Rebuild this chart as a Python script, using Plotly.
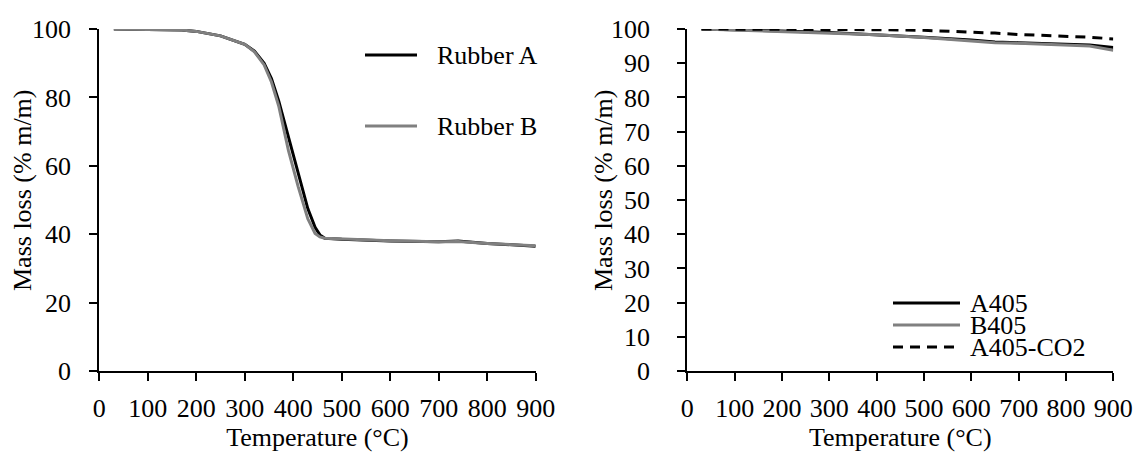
import plotly.graph_objects as go

# Thermogravimetric curves of the raw rubbers
temp_rubber = [30, 100, 170, 200, 250, 300, 320, 340, 355, 370, 390, 410, 430,
               445, 455, 465, 500, 600, 700, 740, 800, 900]
rubber_a = [100, 99.9, 99.7, 99.3, 98.0, 95.5, 93.5, 90.0, 85.5, 79.0, 68.5, 58.0,
            47.5, 42.0, 39.8, 38.8, 38.5, 38.0, 37.8, 38.0, 37.3, 36.5]
rubber_b = [100, 99.9, 99.7, 99.3, 98.0, 95.5, 93.3, 89.5, 84.5, 77.5, 64.5, 54.0,
            44.5, 40.2, 39.2, 38.8, 38.6, 38.1, 37.8, 37.9, 37.3, 36.6]

# Thermogravimetric curves of the chars
temp_char = [30, 100, 200, 300, 400, 500, 600, 650, 700, 800, 850, 900]
a405 = [100, 99.8, 99.4, 99.0, 98.4, 97.6, 96.8, 96.2, 96.0, 95.6, 95.3, 94.6]
b405 = [100, 99.7, 99.3, 98.9, 98.3, 97.5, 96.6, 96.0, 95.8, 95.4, 95.0, 93.8]
a405_co2 = [100, 100, 100, 99.9, 99.8, 99.6, 99.2, 98.8, 98.4, 97.9, 97.6, 97.1]

x_ticks = [0, 100, 200, 300, 400, 500, 600, 700, 800, 900]
y_ticks_left = [0, 20, 40, 60, 80, 100]
y_ticks_right = [0, 10, 20, 30, 40, 50, 60, 70, 80, 90, 100]

BLACK = "#000000"
GREY = "#808080"
FONT = "Liberation Serif"
FS = 26
W, H = 1137, 455

fig = go.Figure()

fig.add_trace(go.Scatter(x=temp_rubber, y=rubber_a, mode="lines", name="Rubber A",
                         line=dict(color=BLACK, width=3), xaxis="x", yaxis="y"))
fig.add_trace(go.Scatter(x=temp_rubber, y=rubber_b, mode="lines", name="Rubber B",
                         line=dict(color=GREY, width=3), xaxis="x", yaxis="y"))

fig.add_trace(go.Scatter(x=temp_char, y=a405, mode="lines", name="A405",
                         line=dict(color=BLACK, width=3), xaxis="x2", yaxis="y2"))
fig.add_trace(go.Scatter(x=temp_char, y=b405, mode="lines", name="B405",
                         line=dict(color=GREY, width=3), xaxis="x2", yaxis="y2"))
fig.add_trace(go.Scatter(x=temp_char, y=a405_co2, mode="lines", name="A405-CO2",
                         line=dict(color=BLACK, width=3, dash="10px,7px"),
                         xaxis="x2", yaxis="y2"))

axis_common = dict(
    showline=True, linecolor=BLACK, linewidth=2,
    ticks="outside", ticklen=8, tickwidth=2, tickcolor=BLACK,
    showgrid=False, zeroline=False, automargin=False,
    tickfont=dict(family=FONT, size=FS, color=BLACK),
)

y_dom = [(H - 371) / H, (H - 29) / H]

fig.update_layout(
    width=W, height=H,
    margin=dict(l=0, r=0, t=0, b=0),
    paper_bgcolor="white", plot_bgcolor="white",
    showlegend=False,
    font=dict(family=FONT, size=FS, color=BLACK),
    xaxis=dict(axis_common, domain=[99.3 / W, 535.7 / W], range=[0, 900],
               tickvals=x_ticks, anchor="y", ticklabelstandoff=5,
               title=dict(text="Temperature (°C)", standoff=6,
                          font=dict(family=FONT, size=FS))),
    yaxis=dict(axis_common, domain=y_dom, range=[0, 100], tickvals=y_ticks_left,
               anchor="x", ticklabelstandoff=13),
    xaxis2=dict(axis_common, domain=[687.3 / W, 1113.3 / W], range=[0, 900],
                tickvals=x_ticks, anchor="y2", ticklabelstandoff=5,
                title=dict(text="Temperature (°C)", standoff=6,
                           font=dict(family=FONT, size=FS))),
    yaxis2=dict(axis_common, domain=y_dom, range=[0, 100], tickvals=y_ticks_right,
                anchor="x2", ticklabelstandoff=22),
)

# Vertical axis titles
for xc in (22, 603):
    fig.add_annotation(xref="paper", yref="paper", x=xc / W, y=1 - 190 / H,
                       text="Mass loss (% m/m)", textangle=-90, showarrow=False,
                       xanchor="center", yanchor="middle",
                       font=dict(family=FONT, size=FS, color=BLACK))

# Legend keys drawn as line samples with labels
def legend_key(x0, x1, y, label, color, gap, dash="solid"):
    fig.add_shape(type="line", xref="paper", yref="paper",
                  x0=x0 / W, x1=x1 / W, y0=1 - y / H, y1=1 - y / H,
                  line=dict(color=color, width=3, dash=dash))
    fig.add_annotation(xref="paper", yref="paper", x=(x1 + gap) / W, y=1 - y / H,
                       text=label, showarrow=False, xanchor="left", yanchor="middle",
                       font=dict(family=FONT, size=FS, color=BLACK))

legend_key(365, 417, 55, "Rubber A", BLACK, 18)
legend_key(365, 417, 126, "Rubber B", GREY, 18)
legend_key(893, 960, 303, "A405", BLACK, 8)
legend_key(893, 960, 325, "B405", GREY, 8)
legend_key(893, 960, 347, "A405-CO2", BLACK, 8, dash="10px,7px")

fig.write_html("out.html")
